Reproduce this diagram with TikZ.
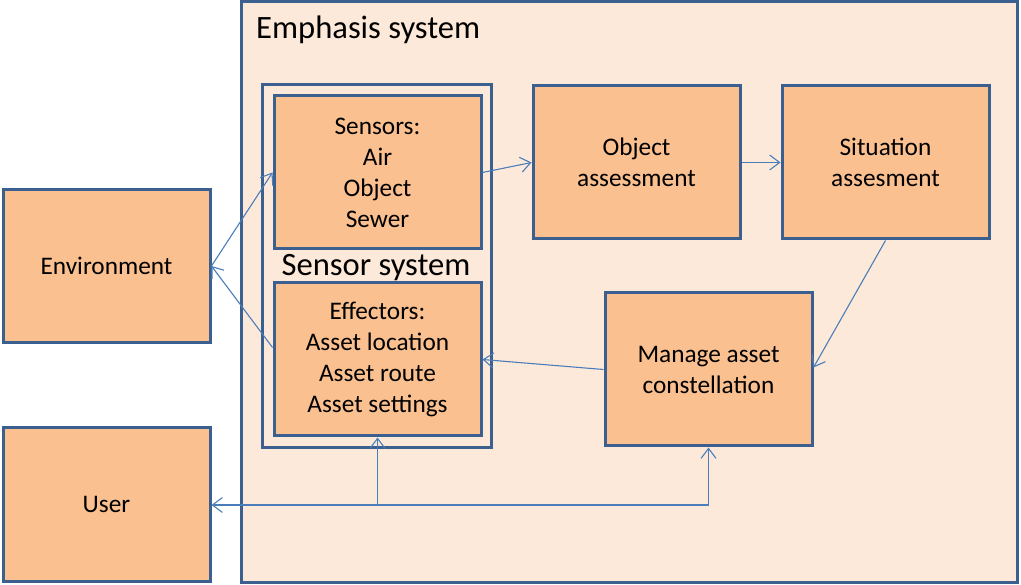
\documentclass[tikz,border=0pt]{standalone}
\usepackage{fontspec}
\setmainfont{Carlito}
\usetikzlibrary{arrows.meta}
\definecolor{boxfill}{HTML}{FAC090}
\definecolor{bgfill}{HTML}{FDE9D9}
\definecolor{boxline}{HTML}{3B5F8E}
\definecolor{arrline}{HTML}{4A7EBB}
\tikzset{
  blockbox/.style={draw=boxline, line width=3pt, fill=boxfill, rectangle, inner sep=0pt,
    minimum width=207pt, minimum height=153pt, align=center,
    font=\fontsize{25.3}{31}\selectfont},
  conn/.style={draw=arrline, line width=1.1pt, -{Straight Barb[length=10pt,width=15pt,line width=1.1pt]}},
  plainconn/.style={draw=arrline, line width=1.1pt}
}
\begin{document}
\begin{tikzpicture}[x=1pt,y=-1pt]
\useasboundingbox (0,0) rectangle (1021,585);
% emphasis system frame
\node[draw=boxline, line width=3pt, fill=bgfill, rectangle, inner sep=0pt, outer sep=0pt,
  minimum width=776pt, minimum height=580pt] (emph) at (629,292) {};
\node[anchor=west, font=\fontsize{32.6}{36}\selectfont, inner sep=0pt] (emphlabel) at (256,30) {Emphasis system};
% sensor system frame
\node[draw=boxline, line width=3pt, rectangle, inner sep=0pt,
  minimum width=229pt, minimum height=363pt] (sensys) at (376.5,266.5) {};
\node[font=\fontsize{32.6}{36}\selectfont, inner sep=0pt] (senslabel) at (376,268) {Sensor system};
% blocks
\node[blockbox] (sens) at (377.5,172.5) {Sensors:\\Air\\Object\\Sewer};
\node[blockbox] (eff) at (377.5,359.5) {Effectors:\\Asset location\\Asset route\\Asset settings};
\node[blockbox] (obj) at (636.5,162.5) {Object\\assessment};
\node[blockbox] (sit) at (885.5,162.5) {Situation\\assesment};
\node[blockbox] (man) at (708.5,369.5) {Manage asset\\constellation};
\node[blockbox] (env) at (106.5,266) {Environment};
\node[blockbox] (user) at (106.5,504.5) {User};
% connectors
\draw[conn] (env.east) -- (sens.west);
\draw[conn] ([yshift=12pt]eff.west) -- (env.east);
\draw[conn] (sens.east) -- (obj.west);
\draw[conn] (obj.east) -- (sit.west);
\draw[conn] (sit.south) -- ([yshift=2pt]man.east);
\draw[conn] (man.west) -- (eff.east);
\coordinate (j1) at (377.5,505);
\coordinate (j2) at (708.5,505);
\draw[plainconn] (j2) -- (j1);
\draw[conn] (j1) -- (user.east |- j1);
\draw[conn] (j1) -- (eff.south);
\draw[conn] (j2) -- (man.south);
\end{tikzpicture}
\end{document}
